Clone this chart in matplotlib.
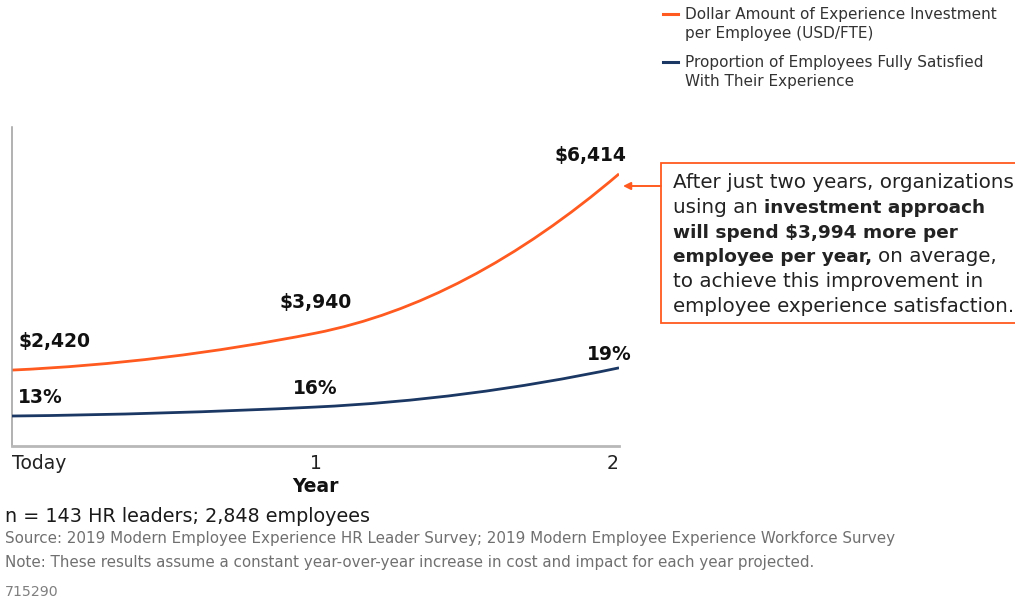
import numpy as np
import matplotlib
matplotlib.use("Agg")
import matplotlib.pyplot as plt
from matplotlib.path import Path
from matplotlib.patches import PathPatch, Rectangle, FancyArrowPatch
from matplotlib.transforms import ScaledTranslation

# data
years = [0, 1, 2]
year_labels = ["Today", "1", "2"]
investment = [2420, 3940, 6414]          # USD per FTE
satisfied = [13, 16, 19]                 # % fully satisfied
investment_labels = ["$2,420", "$3,940", "$6,414"]
satisfied_labels = ["13%", "16%", "19%"]

ORANGE = "#ff5a1f"
NAVY = "#1b3763"
W, H = 1015, 604

plt.rcParams['font.family'] = ['DejaVu Sans']


def fx(px):
    return px / W


def fy(py):
    return 1 - py / H


def power_scale(p):
    fwd = lambda v: np.sign(v) * np.abs(v) ** p
    inv = lambda u: np.sign(u) * np.abs(u) ** (1.0 / p)
    return fwd, inv


def fit_limits(ax, funcs, first, last, a_first, a_last):
    # put the first and last values at the given axes fractions
    fwd, inv = funcs
    f0, f1 = fwd(first), fwd(last)
    span = (f1 - f0) / (a_last - a_first)
    lo = f0 - a_first * span
    ax.set_ylim(inv(lo), inv(lo + span))


def smooth_curve(ax, xs, ys, color, lw):
    # piecewise quadratic-style bezier through the points, in axes coordinates
    to_axes = ax.transData + ax.transAxes.inverted()
    P = to_axes.transform(np.column_stack([xs, ys]))
    dx = np.diff(P[:, 0])
    s = np.diff(P[:, 1]) / dx
    m_mid = 2 * s[0] * s[1] / (s[0] + s[1]) if s[0] * s[1] > 0 else 0.0
    m = [2 * s[0] - m_mid, m_mid, 2 * s[1] - m_mid]
    verts, codes = [P[0]], [Path.MOVETO]
    for i in range(len(P) - 1):
        h = dx[i] / 3
        verts += [P[i] + (h, m[i] * h), P[i + 1] - (h, m[i + 1] * h), P[i + 1]]
        codes += [Path.CURVE4] * 3
    patch = PathPatch(Path(verts, codes), facecolor='none', edgecolor=color,
                      lw=lw, transform=ax.transAxes, capstyle='butt')
    ax.add_patch(patch)


fig = plt.figure(figsize=(W / 100, H / 100), dpi=100)
ax = fig.add_axes([fx(12), fy(446), fx(619) - fx(12), fy(127) - fy(446)])
ax2 = ax.twinx()

orange_scale = power_scale(3)
navy_scale = power_scale(9)
ax.set_yscale('function', functions=orange_scale)
ax2.set_yscale('function', functions=navy_scale)
ax.set_xlim(0, 2)
fit_limits(ax, orange_scale, investment[0], investment[-1], 0.238, 0.853)
fit_limits(ax2, navy_scale, satisfied[0], satisfied[-1], 0.094, 0.245)

smooth_curve(ax, years, investment, ORANGE, 2.0)
smooth_curve(ax2, years, satisfied, NAVY, 2.0)

# spines and ticks
for a in (ax, ax2):
    for s in ('top', 'right'):
        a.spines[s].set_visible(False)
    a.set_yticks([])
    a.yaxis.set_minor_locator(matplotlib.ticker.NullLocator())
ax2.spines['left'].set_visible(False)
ax2.spines['bottom'].set_visible(False)
ax.spines['left'].set_color('#9c9c9c')
ax.spines['left'].set_linewidth(1.1)
ax.spines['bottom'].set_color('#b8b8b8')
ax.spines['bottom'].set_linewidth(2.0)

ax.set_xticks(years, year_labels)
for lbl, ha in zip(ax.get_xticklabels(), ['left', 'center', 'right']):
    lbl.set_ha(ha)
last = ax.get_xticklabels()[-1]
last.set_transform(last.get_transform() + ScaledTranslation(-0.06, 0, fig.dpi_scale_trans))
ax.tick_params(axis='x', length=0, pad=6, labelsize=13.5, colors='#222222')
ax.set_xlabel("Year", fontsize=13.5, fontweight='bold', color='#111111', labelpad=3)

# value labels
lbl_kw = dict(textcoords='offset pixels', fontsize=13.5, fontweight='bold',
              color='#111111', va='center')
inv_offsets = [(6, 29, 'left'), (0, 31, 'center'), (7, 18, 'right')]
sat_offsets = [(6, 19, 'left'), (0, 19, 'center'), (13, 13, 'right')]
for x, v, t, (dx, dy, ha) in zip(years, investment, investment_labels, inv_offsets):
    ax.annotate(t, (x, v), xytext=(dx, dy), ha=ha, **lbl_kw)
for x, v, t, (dx, dy, ha) in zip(years, satisfied, satisfied_labels, sat_offsets):
    ax2.annotate(t, (x, v), xytext=(dx, dy), ha=ha, **lbl_kw)

# legend
leg_kw = dict(fontsize=11, color='#333333', va='center')
for y0, color, lines in [(14, ORANGE, ["Dollar Amount of Experience Investment",
                                        "per Employee (USD/FTE)"]),
                         (62, NAVY, ["Proportion of Employees Fully Satisfied",
                                     "With Their Experience"])]:
    fig.lines.append(plt.Line2D([fx(663), fx(678)], [fy(y0), fy(y0)], color=color,
                                lw=2.2, transform=fig.transFigure))
    for i, line in enumerate(lines):
        fig.text(fx(685), fy(y0 + i * 19.5), line, **leg_kw)

# callout box
fig.patches.append(Rectangle((fx(661), fy(323)), fx(1030) - fx(661), fy(163) - fy(323),
                             transform=fig.transFigure, facecolor='white',
                             edgecolor=ORANGE, lw=1.3))
fig.patches.append(FancyArrowPatch((fx(661), fy(186)), (fx(623), fy(186)),
                                   transform=fig.transFigure, arrowstyle='-|>',
                                   mutation_scale=11, color=ORANGE, lw=1.4,
                                   shrinkA=0, shrinkB=0))

callout = [
    [("After just two years, organizations", False)],
    [("using an ", False), ("investment approach", True)],
    [("will spend $3,994 more per", True)],
    [("employee per year,", True), (" on average,", False)],
    [("to achieve this improvement in", False)],
    [("employee experience satisfaction.", False)],
]
renderer = fig.canvas.get_renderer()
box_kw = dict(color='#222222', va='baseline')


def seg_style(bold):
    return dict(weight='bold', fontsize=13.3) if bold else dict(weight='normal', fontsize=14.3)


def text_width(s, bold):
    t = fig.text(0, 0, s, **seg_style(bold), **box_kw)
    w = t.get_window_extent(renderer).width
    t.remove()
    return w


for i, segs in enumerate(callout):
    x = 673
    y = 188.5 + i * 24.6
    for s, bold in segs:
        body = s.strip()
        if s.startswith(' '):
            x += text_width("a a", bold) - text_width("aa", bold)
        fig.text(fx(x), fy(y), body, **seg_style(bold), **box_kw)
        x += text_width(body, bold)
        if s.endswith(' '):
            x += text_width("a a", bold) - text_width("aa", bold)

# footnotes
fig.text(fx(5), fy(516), "n = 143 HR leaders; 2,848 employees", fontsize=13.8,
         color='#1a1a1a', va='center')
fig.text(fx(5), fy(538), "Source: 2019 Modern Employee Experience HR Leader Survey; "
         "2019 Modern Employee Experience Workforce Survey", fontsize=10.9,
         color='#707070', va='center')
fig.text(fx(5), fy(563), "Note: These results assume a constant year-over-year increase "
         "in cost and impact for each year projected.", fontsize=10.9,
         color='#707070', va='center')
fig.text(fx(5), fy(592), "715290", fontsize=10.2, color='#808080', va='center')

fig.savefig("out.png", dpi=100)
